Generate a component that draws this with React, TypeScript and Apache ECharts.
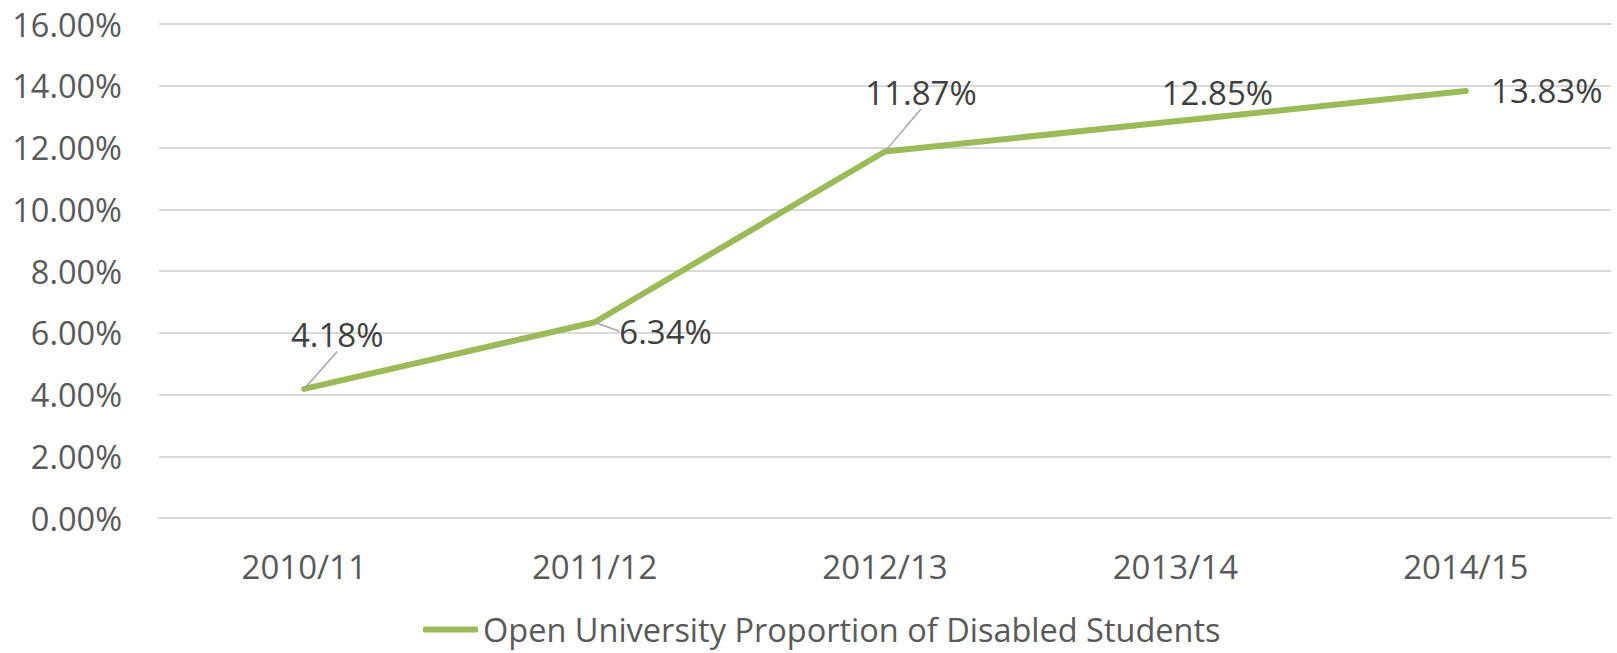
import React, { useEffect, useRef } from "react";
import * as echarts from "echarts";

const categories = ["2010/11", "2011/12", "2012/13", "2013/14", "2014/15"];
const proportions = [4.18, 6.34, 11.87, 12.85, 13.83];
const seriesName = "Open University Proportion of Disabled Students";
const yTicks = { min: 0, max: 16, interval: 2 };

// label offsets (layout only)
const labelOffsets = [
  [33, -54],
  [71, 9],
  [36, -59],
  [42, -29],
  [81, 0],
];
const showLeader = [true, true, true, false, false];

const FONT = "'Open Sans', 'Noto Sans', sans-serif";

export default function App() {
  const ref = useRef<HTMLDivElement>(null);
  useEffect(() => {
    if (!ref.current) return;
    const chart = echarts.init(ref.current, null, { renderer: "svg" });
    chart.setOption({
      animation: false,
      backgroundColor: "#ffffff",
      textStyle: { fontFamily: FONT },
      grid: { left: 159, right: 6, top: 24, bottom: 135, containLabel: false },
      legend: {
        left: 423,
        top: 613,
        padding: 0,
        icon: "roundRect",
        itemWidth: 55,
        itemHeight: 6,
        itemGap: 5,
        textStyle: { fontSize: 32.5, color: "#595959", fontFamily: FONT },
        data: [seriesName],
      },
      xAxis: {
        type: "category",
        data: categories,
        boundaryGap: true,
        axisLine: { show: true, lineStyle: { color: "#d9d9d9", width: 2 } },
        axisTick: { show: false },
        axisLabel: { fontSize: 33, color: "#595959", margin: 32, fontFamily: FONT },
      },
      yAxis: {
        type: "value",
        min: yTicks.min,
        max: yTicks.max,
        interval: yTicks.interval,
        axisLine: { show: false },
        axisTick: { show: false },
        splitLine: { lineStyle: { color: "#d9d9d9", width: 2 } },
        axisLabel: {
          fontSize: 32.5,
          color: "#595959",
          margin: 37,
          fontFamily: FONT,
          formatter: (v: number) => v.toFixed(2) + "%",
        },
      },
      series: [
        {
          name: seriesName,
          type: "line",
          data: proportions.map((v, i) => ({
            value: v,
            labelLine: { show: showLeader[i] },
          })),
          color: "#9BBB59",
          lineStyle: { color: "#9BBB59", width: 6, cap: "round", join: "round" },
          itemStyle: { color: "#9BBB59" },
          showSymbol: true,
          symbol: "circle",
          symbolSize: 1,
          label: {
            show: true,
            position: "inside",
            fontSize: 33,
            color: "#404040",
            textBorderWidth: 0,
            fontFamily: FONT,
            formatter: (p: any) => p.value.toFixed(2) + "%",
          },
          labelLine: {
            show: true,
            length2: 0,
            lineStyle: { color: "#a6a6a6", width: 1.5 },
          },
          labelLayout: (params: any) => ({
            dx: labelOffsets[params.dataIndex][0],
            dy: labelOffsets[params.dataIndex][1],
          }),
        },
      ],
    });
    return () => chart.dispose();
  }, []);
  return (
    <div
      ref={ref}
      style={{ position: "fixed", left: 0, top: 0, width: 1617, height: 653 }}
    />
  );
}
